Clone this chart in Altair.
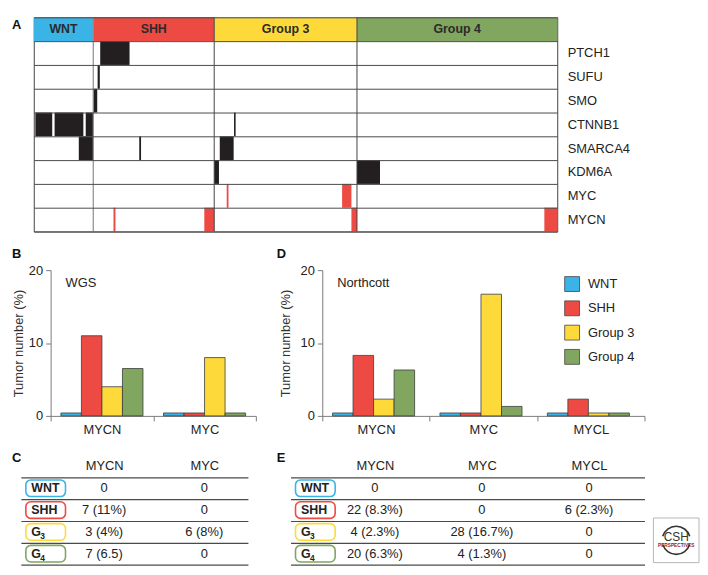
import altair as alt
import pandas as pd

FONT = "Liberation Sans"

# ---------------- shared categories ----------------
groups = ["WNT", "SHH", "Group 3", "Group 4"]
group_colors = ["#3AB4E6", "#EE4A44", "#FDDA3A", "#80A660"]

# ---------------- panel A: alterations per sample ----------------
genes = ["PTCH1", "SUFU", "SMO", "CTNNB1", "SMARCA4", "KDM6A", "MYC", "MYCN"]
group_first_sample = [0, 30, 91, 163]
group_last_sample = [30, 91, 163, 264]

alt_gene = ["PTCH1", "SUFU", "SMO",
            "CTNNB1", "CTNNB1", "CTNNB1", "CTNNB1",
            "SMARCA4", "SMARCA4", "SMARCA4",
            "KDM6A", "KDM6A",
            "MYC", "MYC",
            "MYCN", "MYCN", "MYCN", "MYCN"]
alt_first = [33.5, 32.2, 30.0,
             0.8, 10.5, 26.2, 101.0,
             22.7, 53.2, 93.8,
             91.0, 163.0,
             97.3, 155.5,
             40.2, 86.0, 160.2, 257.5]
alt_last = [48.3, 33.3, 32.0,
            9.3, 25.0, 30.0, 101.8,
            30.0, 54.1, 100.8,
            93.4, 174.6,
            98.2, 160.2,
            41.2, 91.0, 163.0, 264.0]
alt_kind = (["mutation"] * 12) + (["amplification"] * 6)

# ---------------- panel B (WGS) ----------------
wgs_genes = ["MYCN", "MYC"]
wgs_wnt = [0.4, 0.4]
wgs_shh = [11.0, 0.4]
wgs_g3 = [4.0, 8.0]
wgs_g4 = [6.5, 0.4]

# ---------------- panel D (Northcott) ----------------
nc_genes = ["MYCN", "MYC", "MYCL"]
nc_wnt = [0.4, 0.4, 0.4]
nc_shh = [8.3, 0.4, 2.3]
nc_g3 = [2.3, 16.7, 0.4]
nc_g4 = [6.3, 1.3, 0.4]

# ---------------- tables C and E ----------------
row_label_main = ["WNT", "SHH", "G", "G"]
row_label_sub = ["", "", "3", "4"]
wgs_tab_wnt = ["0", "0"]
wgs_tab_shh = ["7 (11%)", "0"]
wgs_tab_g3 = ["3 (4%)", "6 (8%)"]
wgs_tab_g4 = ["7 (6.5)", "0"]
nc_tab_wnt = ["0", "0", "0"]
nc_tab_shh = ["22 (8.3%)", "0", "6 (2.3%)"]
nc_tab_g3 = ["4 (2.3%)", "28 (16.7%)", "0"]
nc_tab_g4 = ["20 (6.3%)", "4 (1.3%)", "0"]

ONE = pd.DataFrame({"t": ["x"]})

A_H = 216        # 9 rows of 24
TAB_H = 88       # 4 rows of 22


def letter(ch, x, y):
    return alt.Chart(pd.DataFrame({"t": [ch]})).mark_text(
        align="left", baseline="top", fontSize=13, fontWeight="bold", color="#111"
    ).encode(text="t:N", x=alt.value(x), y=alt.value(y))


def spacer(w):
    return alt.Chart(ONE).mark_rect(opacity=0).encode(
        x=alt.value(0), x2=alt.value(w), y=alt.value(0), y2=alt.value(1)
    ).properties(width=w, height=1)


def group_fill(legend=None):
    if legend is None:
        return alt.Fill("group:N", scale=alt.Scale(domain=groups, range=group_colors), legend=None)
    return alt.Fill("group:N", scale=alt.Scale(domain=groups, range=group_colors), legend=legend)


# ======== Panel A ========
sample_scale = alt.Scale(domain=[0, 264], nice=False, zero=False)
row_scale = alt.Scale(domain=["header"] + genes, paddingInner=0, paddingOuter=0)

hdr_df = pd.DataFrame({"group": groups, "first": group_first_sample,
                       "last": group_last_sample, "row": ["header"] * 4})
hdr_rect = alt.Chart(hdr_df).mark_rect().encode(
    x=alt.X("first:Q", scale=sample_scale, axis=None),
    x2="last:Q",
    y=alt.Y("row:N", scale=row_scale,
            axis=alt.Axis(orient="right", title=None, domain=False, ticks=False,
                          grid=True, tickBand="extent", gridColor="#4a4a4a", gridWidth=1,
                          labelExpr="datum.value == 'header' ? '' : datum.value",
                          labelFontSize=13, labelColor="#222", labelPadding=10, zindex=1)),
    fill=group_fill(),
)
hdr_text = alt.Chart(hdr_df).transform_calculate(
    mid="(datum.first + datum.last) / 2"
).mark_text(fontSize=12.5, fontWeight="bold", color="#2b2b2b", baseline="middle").encode(
    x=alt.X("mid:Q", scale=sample_scale, axis=None),
    y=alt.Y("row:N", scale=row_scale, title=None),
    text="group:N",
)
mut_df = pd.DataFrame({"row": alt_gene, "first": alt_first, "last": alt_last, "kind": alt_kind})
mut_rect = alt.Chart(mut_df).mark_rect().encode(
    x=alt.X("first:Q", scale=sample_scale, axis=None),
    x2="last:Q",
    y=alt.Y("row:N", scale=row_scale, title=None),
    color=alt.Color("kind:N", scale=alt.Scale(domain=["mutation", "amplification"],
                                              range=["#231F20", "#EE4A44"]), legend=None),
)
rule_light = alt.Chart(pd.DataFrame({"b": group_first_sample[1:2]})).mark_rule(
    color="#8c8c8c", strokeWidth=1.2
).encode(x=alt.X("b:Q", scale=sample_scale, axis=None))
rule_dark = alt.Chart(pd.DataFrame({"b": group_first_sample[2:]})).mark_rule(
    color="#444", strokeWidth=1
).encode(x=alt.X("b:Q", scale=sample_scale, axis=None))

panel_a = alt.layer(hdr_rect, mut_rect, hdr_text, rule_light, rule_dark, letter("A", -22, 2)).properties(
    width=528, height=A_H, view=alt.ViewBackground(stroke="#444", strokeWidth=1)
)


# ======== Panels B and D ========
def bar_panel(gene_list, series, width, letter_ch, letter_x, note, title_pad, legend):
    recs = []
    for g, vals in zip(groups, series):
        for gene, v in zip(gene_list, vals):
            recs.append({"gene": gene, "group": g, "value": v})
    df = pd.DataFrame(recs)
    bars = alt.Chart(df).mark_bar(stroke="#3d3d3d", strokeWidth=0.8).encode(
        x=alt.X("gene:N", sort=gene_list, scale=alt.Scale(paddingInner=0, paddingOuter=0),
                axis=alt.Axis(title=None, labelAngle=0, tickBand="extent", tickSize=5,
                              labelPadding=3, domainColor="#7a7a7a", tickColor="#7a7a7a",
                              labelFontSize=13, labelColor="#222")),
        xOffset=alt.XOffset("group:N", sort=groups,
                            scale=alt.Scale(domain=groups, paddingInner=0, paddingOuter=0.5)),
        y=alt.Y("value:Q", scale=alt.Scale(domain=[0, 20], nice=False),
                axis=alt.Axis(values=[0, 10, 20], title="Tumor number (%)", grid=False,
                              tickSize=5, labelPadding=3, domainColor="#7a7a7a",
                              tickColor="#7a7a7a", labelFontSize=13, labelColor="#222",
                              titleFontSize=13, titleFontWeight="normal", titleColor="#333",
                              titlePadding=title_pad)),
        fill=group_fill(legend),
    )
    note_t = alt.Chart(pd.DataFrame({"t": [note]})).mark_text(
        align="left", baseline="alphabetic", fontSize=13, color="#222"
    ).encode(text="t:N", x=alt.value(15), y=alt.value(17))
    return alt.layer(bars, note_t, letter(letter_ch, letter_x, -22)).properties(width=width, height=147)


legend_d = alt.Legend(title=None, orient="none", legendX=244, legendY=6, symbolType="square",
                      symbolSize=225, symbolStrokeColor="#444", symbolStrokeWidth=0.8,
                      symbolOpacity=1, labelFontSize=13, labelColor="#222", labelOffset=8,
                      rowPadding=4.5, padding=0)

panel_b = bar_panel(wgs_genes, [wgs_wnt, wgs_shh, wgs_g3, wgs_g4], 207, "B", -39, "WGS", 3, None)
panel_d = bar_panel(nc_genes, [nc_wnt, nc_shh, nc_g3, nc_g4], 325, "D", -46, "Northcott", 8, legend_d)


# ======== Tables C and E ========
def table_panel(cols, cells, width, pad, align, letter_ch, letter_x):
    recs = []
    for g, vals in zip(groups, cells):
        for c, v in zip(cols, vals):
            recs.append({"grp": g, "col": c, "txt": v})
    df = pd.DataFrame(recs)
    yscale = alt.Scale(type="band", domain=groups, paddingInner=0, paddingOuter=0)
    txt = alt.Chart(df).mark_text(fontSize=13, color="#222", baseline="middle").encode(
        x=alt.X("col:N", sort=cols,
                scale=alt.Scale(type="point", domain=cols, padding=pad, align=align),
                axis=alt.Axis(orient="top", title=None, domain=False, ticks=False, labelAngle=0,
                              labelPadding=5, labelFontSize=13, labelColor="#222")),
        y=alt.Y("grp:N", scale=yscale,
                axis=alt.Axis(title=None, labels=False, ticks=False, domain=False, grid=True,
                              tickBand="extent", gridColor="#4a4a4a", gridWidth=1.2)),
        text="txt:N",
    )
    lab_df = pd.DataFrame({"grp": groups, "main": row_label_main, "sub": row_label_sub})
    box_x0 = 5
    boxes = alt.Chart(lab_df).mark_bar(height={"band": 0.76}, cornerRadius=5, fill="white",
                                       strokeWidth=1.6).encode(
        x=alt.value(box_x0), x2=alt.value(box_x0 + 40),
        y=alt.Y("grp:N", scale=yscale, title=None),
        stroke=alt.Stroke("grp:N", scale=alt.Scale(domain=groups, range=group_colors), legend=None),
    )
    main = alt.Chart(lab_df).mark_text(align="left", baseline="middle", fontSize=12.5,
                                       fontWeight="bold", color="#222").encode(
        x=alt.value(box_x0 + 5.5), y=alt.Y("grp:N", scale=yscale, title=None), text="main:N")
    sub = alt.Chart(lab_df).mark_text(align="left", baseline="middle", fontSize=8.5,
                                      fontWeight="bold", color="#222", dy=4).encode(
        x=alt.value(box_x0 + 14.5), y=alt.Y("grp:N", scale=yscale, title=None), text="sub:N")
    return alt.layer(txt, boxes, main, sub, letter(letter_ch, letter_x, -25)).properties(
        width=width, height=TAB_H)


panel_c = table_panel(wgs_genes, [wgs_tab_wnt, wgs_tab_shh, wgs_tab_g3, wgs_tab_g4],
                      229, 0.634, 0.656, "C", -9)
panel_e = table_panel(nc_genes, [nc_tab_wnt, nc_tab_shh, nc_tab_g3, nc_tab_g4],
                      357, 0.653, 0.603, "E", -14)

# ======== logo ========
LW = 46
LH = 45
logo_box = alt.Chart(ONE).mark_rect(fill="white", stroke="#b5b5b5", strokeWidth=1).encode(
    x=alt.value(0), x2=alt.value(LW), y=alt.value(TAB_H - LH - 2), y2=alt.value(TAB_H - 2))
LCY = TAB_H - 2 - LH / 2
logo_top = alt.Chart(ONE).mark_arc(radius=15, radius2=13.4, theta=5.0, theta2=7.56,
                                   color="#333").encode(x=alt.value(LW / 2), y=alt.value(LCY))
logo_bot = alt.Chart(ONE).mark_arc(radius=15, radius2=13.4, theta=1.86, theta2=4.42,
                                   color="#333").encode(x=alt.value(LW / 2), y=alt.value(LCY))
logo_csh = alt.Chart(pd.DataFrame({"t": ["CSH"]})).mark_text(fontSize=12, color="#333").encode(
    text="t:N", x=alt.value(LW / 2), y=alt.value(LCY - 3))
logo_sub = alt.Chart(pd.DataFrame({"t": ["PERSPECTIVES"]})).mark_text(
    fontSize=4.8, fontWeight="bold", color="#8B1C1C").encode(
    text="t:N", x=alt.value(LW / 2), y=alt.value(LCY + 6))
logo = alt.layer(logo_box, logo_top, logo_bot, logo_csh, logo_sub).properties(
    width=LW, height=TAB_H)

row1 = alt.hconcat(spacer(1), panel_a, spacing=0)
row2 = alt.hconcat(
    spacer(1),
    alt.hconcat(panel_b, panel_d, spacing=19).resolve_scale(fill="independent"),
    spacing=0,
).resolve_scale(fill="independent")
row3 = alt.hconcat(
    spacer(1),
    alt.hconcat(
        alt.hconcat(panel_c, panel_e, spacing=27).resolve_scale(stroke="independent"),
        logo, spacing=7,
    ).resolve_scale(stroke="independent"),
    spacing=0,
).resolve_scale(stroke="independent")

chart = alt.vconcat(row1, row2, row3, spacing=14).resolve_scale(
    fill="independent", color="independent", stroke="independent"
).properties(padding=0).configure(font=FONT).configure_view(
    stroke="transparent"
).configure_axis(labelFont=FONT, titleFont=FONT).configure_legend(
    labelFont=FONT
).configure_text(font=FONT)

chart.save("out.html", embed_options={"renderer": "svg", "actions": False})
